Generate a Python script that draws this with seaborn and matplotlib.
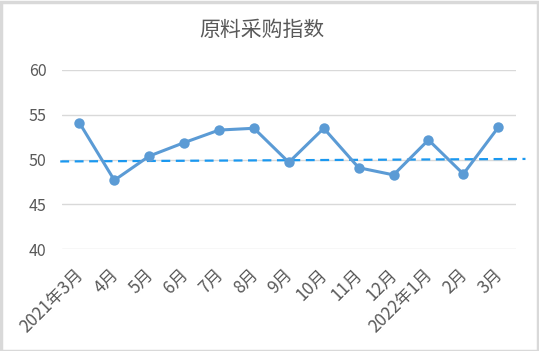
import matplotlib
matplotlib.use("Agg")
import matplotlib.pyplot as plt
import matplotlib.transforms as mtransforms
import seaborn as sns
import pandas as pd
from matplotlib.patches import Rectangle

months = ["2021年3月", "4月", "5月", "6月", "7月", "8月", "9月", "10月",
          "11月", "12月", "2022年1月", "2月", "3月"]
values = [54.1, 47.7, 50.4, 51.9, 53.3, 53.5, 49.7, 53.5, 49.1, 48.3, 52.2, 48.4, 53.6]
trend_values = [49.8, 50.08]
y_ticks = [40, 45, 50, 55, 60]
title = "原料采购指数"

sns.set_theme(style="white")
plt.rcParams['font.family'] = ['Noto Sans CJK SC', 'DejaVu Sans']

W, H = 539, 351
fig = plt.figure(figsize=(W / 100, H / 100), dpi=100)
fig.patch.set_facecolor("white")
fig.add_artist(Rectangle((0.5 / W, 0.5 / H), 1 - 2 / W, 1 - 2 / H,
                         transform=fig.transFigure, fill=False,
                         edgecolor="#d9d9d9", linewidth=2.5))

left, right, top, bottom = 62, 515.7, 70, 249.3
ax = fig.add_axes([left / W, 1 - bottom / H, (right - left) / W, (bottom - top) / H])

df = pd.DataFrame({"month": months, "value": values, "x": range(len(months))})

for y in y_ticks:
    ax.axhline(y, color="#d9d9d9", linewidth=1.0, zorder=0)

ax.plot([-0.55, 12.78], trend_values, linestyle=(0, (4, 2.5)), color="#1a98f0",
        linewidth=1.6, zorder=2, clip_on=False)

sns.lineplot(data=df, x="x", y="value", ax=ax, color="#5b9bd5", linewidth=2.2,
             marker="o", markersize=7.5, markeredgewidth=0, zorder=3)

ax.set_xlim(-0.5, len(months) - 0.5)
ax.set_ylim(40, 60)
ax.set_yticks(y_ticks)
ax.set_yticklabels([str(v) for v in y_ticks], color="#595959", fontsize=11.5)
ax.set_xticks(range(len(months)))
ax.set_xticklabels(months, rotation=45, ha="right", va="top", rotation_mode="anchor",
                   color="#595959", fontsize=12.3)
ax.tick_params(axis="y", length=0, pad=11)
ax.tick_params(axis="x", length=0, pad=12)
offset = mtransforms.ScaledTranslation(-5 / 100, 0, fig.dpi_scale_trans)
for lab in ax.get_xticklabels():
    lab.set_transform(lab.get_transform() + offset)
ax.set_xlabel("")
ax.set_ylabel("")
for s in ax.spines.values():
    s.set_visible(False)
ax.set_facecolor("none")

fig.text(262 / W, 1 - 30 / H, title, ha="center", va="center", fontsize=15,
         color="#595959")

fig.savefig("out.png", dpi=100)
